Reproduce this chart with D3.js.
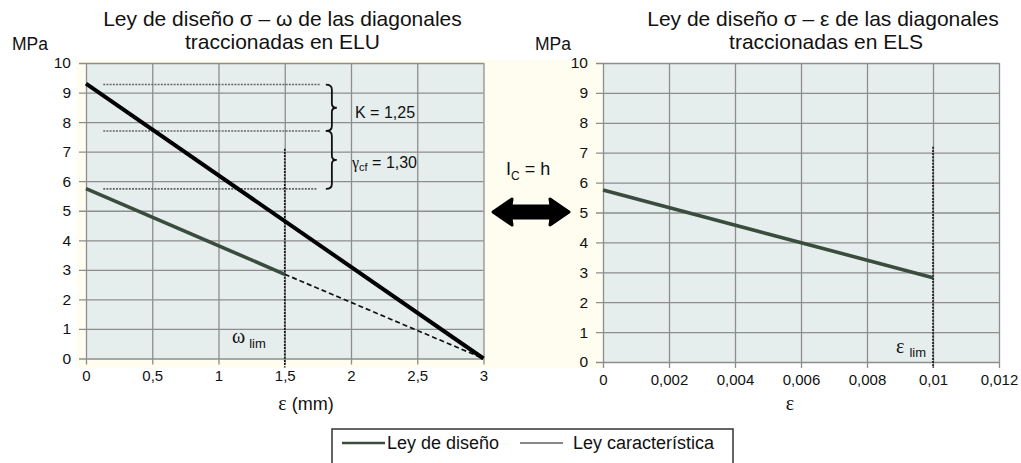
<!DOCTYPE html>
<html><head><meta charset="utf-8">
<script src="https://cdn.jsdelivr.net/npm/d3@7"></script>
<style>
html,body{margin:0;padding:0;background:#fff;}
text{font-family:"Liberation Sans",Arial,sans-serif;fill:#111;}
.gr{font-family:"Liberation Serif","DejaVu Serif",serif;}
</style></head>
<body><svg id="c" width="1021" height="463"></svg>
<script>
// ---- data ----
const leftXTicks = [0, 0.5, 1, 1.5, 2, 2.5, 3];
const leftXLabels = ["0", "0,5", "1", "1,5", "2", "2,5", "3"];
const rightXTicks = [0, 0.002, 0.004, 0.006, 0.008, 0.01, 0.012];
const rightXLabels = ["0", "0,002", "0,004", "0,006", "0,008", "0,01", "0,012"];
const yTicks = [0, 1, 2, 3, 4, 5, 6, 7, 8, 9, 10];

// Left chart (ELU): design law (solid), its extension (dashed), characteristic law
const eluDesignX = [0, 1.5];
const eluDesignY = [5.75, 2.85];
const eluDesignExtX = [1.5, 3];
const eluDesignExtY = [2.85, 0];
const eluCharX = [0, 3];
const eluCharY = [9.3, 0];
const refLevels = [9.27, 7.70, 5.74];     // dotted reference levels
const refLevelXEnd = [1.77, 1.77, 1.74];
const wLim = 1.5, wLimTop = 7.1;
// Right chart (ELS)
const elsDesignX = [0, 0.01];
const elsDesignY = [5.75, 2.82];
const eLim = 0.01, eLimTop = 7.2;

const svg = d3.select("#c");
const cream = "#fffdf0", plotBg = "#e6eeed", gridC = "#8d8d8d", green = "#3a4c3e";

svg.append("rect").attr("x", 77).attr("y", 60).attr("width", 526).attr("height", 308).attr("fill", cream);

function pts(xs, ys){ return xs.map((x,i)=>[x, ys[i]]); }

function panel(o){
  const x = d3.scaleLinear().domain(o.xdom).range([o.x0, o.x1]);
  const y = d3.scaleLinear().domain([0, 10]).range([o.y0, o.y1]);
  const g = svg.append("g");
  g.append("rect").attr("x", o.x0).attr("y", o.y1).attr("width", o.x1 - o.x0).attr("height", o.y0 - o.y1).attr("fill", plotBg);
  const ya = g.append("g").attr("transform", `translate(${o.x0},0)`)
    .call(d3.axisLeft(y).tickValues(yTicks).tickSizeInner(-(o.x1 - o.x0)).tickSizeOuter(0).tickPadding(15).tickFormat(d3.format("d")));
  ya.select(".domain").remove();
  ya.selectAll(".tick line").attr("stroke", gridC).attr("stroke-width", 1.3).attr("x1", -7).attr("x2", o.x1 - o.x0);
  ya.selectAll(".tick text").attr("font-size", 15.5).attr("font-family", "Liberation Sans, Arial, sans-serif").attr("fill", "#111");
  const xa = g.append("g").attr("transform", `translate(0,${o.y0})`)
    .call(d3.axisBottom(x).tickValues(o.xticks).tickSizeInner(-(o.y0 - o.y1)).tickSizeOuter(0).tickPadding(12).tickFormat((d,i)=>o.xlabels[i]));
  xa.select(".domain").remove();
  xa.selectAll(".tick line").attr("stroke", gridC).attr("stroke-width", 1.3).attr("y1", 6);
  xa.selectAll(".tick text").attr("font-size", 15).attr("font-family", "Liberation Sans, Arial, sans-serif").attr("fill", "#111");
  return {x, y, g};
}

// ---------- Left chart ----------
const L = panel({x0: 86, x1: 483.5, y0: 358.5, y1: 63, xdom: [0, 3], xticks: leftXTicks, xlabels: leftXLabels});
const line = (P) => d3.line().x(d => P.x(d[0])).y(d => P.y(d[1]));

refLevels.forEach((v, i) => {
  L.g.append("line").attr("x1", L.x(0.13)).attr("x2", L.x(refLevelXEnd[i]))
    .attr("y1", L.y(v)).attr("y2", L.y(v))
    .attr("stroke", "#666").attr("stroke-width", 1.6).attr("stroke-dasharray", "2,1.2");
});
L.g.append("line").attr("x1", L.x(wLim)).attr("x2", L.x(wLim)).attr("y1", L.y(wLimTop)).attr("y2", L.y(0) + 9)
  .attr("stroke", "#111").attr("stroke-width", 1.6).attr("stroke-dasharray", "2,1.2");
L.g.append("path").attr("d", line(L)(pts(eluDesignExtX, eluDesignExtY))).attr("fill", "none")
  .attr("stroke", "#111").attr("stroke-width", 1.7).attr("stroke-dasharray", "5,3");
L.g.append("path").attr("d", line(L)(pts(eluCharX, eluCharY))).attr("fill", "none")
  .attr("stroke", "#000").attr("stroke-width", 4);
L.g.append("path").attr("d", line(L)(pts(eluDesignX, eluDesignY))).attr("fill", "none")
  .attr("stroke", green).attr("stroke-width", 3.6);

function brace(xl, a, b){
  const m = (a + b) / 2, w = 11, s = xl + w * 0.55;
  return `M${xl},${a} Q${s},${a} ${s},${a+5} L${s},${m-4} Q${s},${m} ${xl+w},${m} Q${s},${m} ${s},${m+4} L${s},${b-5} Q${s},${b} ${xl},${b}`;
}
const bx = L.x(1.81);
L.g.append("path").attr("d", brace(bx, L.y(refLevels[0]), L.y(refLevels[1]))).attr("fill", "none").attr("stroke", "#111").attr("stroke-width", 1.8);
L.g.append("path").attr("d", brace(bx, L.y(refLevels[1]), L.y(refLevels[2]))).attr("fill", "none").attr("stroke", "#111").attr("stroke-width", 1.8);

svg.append("text").attr("x", 355).attr("y", 118).attr("font-size", 16).text("K = 1,25");
const gt = svg.append("text").attr("x", 352).attr("y", 168).attr("font-size", 16);
gt.append("tspan").attr("class", "gr").attr("font-size", 16).text("γ");
gt.append("tspan").attr("font-size", 11).attr("dy", 3).text("cf");
gt.append("tspan").attr("dy", -3).text(" = 1,30");

const wl = svg.append("text").attr("x", 232).attr("y", 343).attr("font-size", 20);
wl.append("tspan").attr("class", "gr").text("ω");
wl.append("tspan").attr("font-size", 13).attr("dx", 4).attr("dy", 5).text("lim");

svg.append("text").attr("x", 282.5).attr("y", 26).attr("text-anchor", "middle").attr("font-size", 21).text("Ley de diseño σ – ω de las diagonales");
svg.append("text").attr("x", 282.5).attr("y", 49).attr("text-anchor", "middle").attr("font-size", 21).text("traccionadas en ELU");
svg.append("text").attr("x", 30).attr("y", 50).attr("text-anchor", "middle").attr("font-size", 17.5).text("MPa");
const xt = svg.append("text").attr("x", 306).attr("y", 410).attr("text-anchor", "middle").attr("font-size", 18);
xt.append("tspan").attr("class", "gr").attr("font-size", 20).text("ε");
xt.append("tspan").text(" (mm)");

// ---------- Right chart ----------
const R = panel({x0: 603, x1: 999, y0: 362, y1: 63, xdom: [0, 0.012], xticks: rightXTicks, xlabels: rightXLabels});
R.g.append("line").attr("x1", R.x(eLim)).attr("x2", R.x(eLim)).attr("y1", R.y(eLimTop)).attr("y2", R.y(0) + 6)
  .attr("stroke", "#111").attr("stroke-width", 1.6).attr("stroke-dasharray", "2,1.2");
R.g.append("path").attr("d", line(R)(pts(elsDesignX, elsDesignY))).attr("fill", "none")
  .attr("stroke", green).attr("stroke-width", 3.6);
const el = svg.append("text").attr("x", 896).attr("y", 353).attr("font-size", 20);
el.append("tspan").attr("class", "gr").text("ε");
el.append("tspan").attr("font-size", 13).attr("dx", 5).attr("dy", 4).text("lim");

svg.append("text").attr("x", 823).attr("y", 26).attr("text-anchor", "middle").attr("font-size", 21).text("Ley de diseño σ – ε de las diagonales");
svg.append("text").attr("x", 826).attr("y", 49).attr("text-anchor", "middle").attr("font-size", 21).text("traccionadas en ELS");
svg.append("text").attr("x", 553).attr("y", 50).attr("text-anchor", "middle").attr("font-size", 17.5).text("MPa");
svg.append("text").attr("x", 790).attr("y", 410).attr("text-anchor", "middle").attr("font-size", 20).attr("class", "gr").text("ε");

// ---------- middle: lc = h and double arrow ----------
const ic = svg.append("text").attr("x", 506).attr("y", 175).attr("font-size", 18);
ic.append("tspan").text("I");
ic.append("tspan").attr("font-size", 12).attr("dy", 5).text("C");
ic.append("tspan").attr("dy", -5).text(" = h");
const ax0 = 493, ax1 = 569, ay = 212, hl = 19, hh = 13, sh = 6;
svg.append("path")
  .attr("d", `M${ax0},${ay} L${ax0+hl},${ay-hh} L${ax0+hl-1},${ay-sh} L${ax1-hl+1},${ay-sh} L${ax1-hl},${ay-hh} L${ax1},${ay} L${ax1-hl},${ay+hh} L${ax1-hl+1},${ay+sh} L${ax0+hl-1},${ay+sh} L${ax0+hl},${ay+hh} Z`)
  .attr("fill", "#000").attr("stroke", "#000").attr("stroke-width", 3).attr("stroke-linejoin", "round");

// ---------- legend ----------
svg.append("rect").attr("x", 332).attr("y", 429).attr("width", 401).attr("height", 45)
  .attr("fill", "#fff").attr("stroke", "#333").attr("stroke-width", 1.5);
svg.append("line").attr("x1", 342).attr("x2", 385).attr("y1", 443).attr("y2", 443).attr("stroke", green).attr("stroke-width", 2.6);
svg.append("text").attr("x", 387).attr("y", 449).attr("font-size", 18).text("Ley de diseño");
svg.append("line").attr("x1", 520).attr("x2", 563).attr("y1", 443).attr("y2", 443).attr("stroke", "#111").attr("stroke-width", 1);
svg.append("text").attr("x", 573).attr("y", 449).attr("font-size", 18).text("Ley característica");
</script></body></html>
